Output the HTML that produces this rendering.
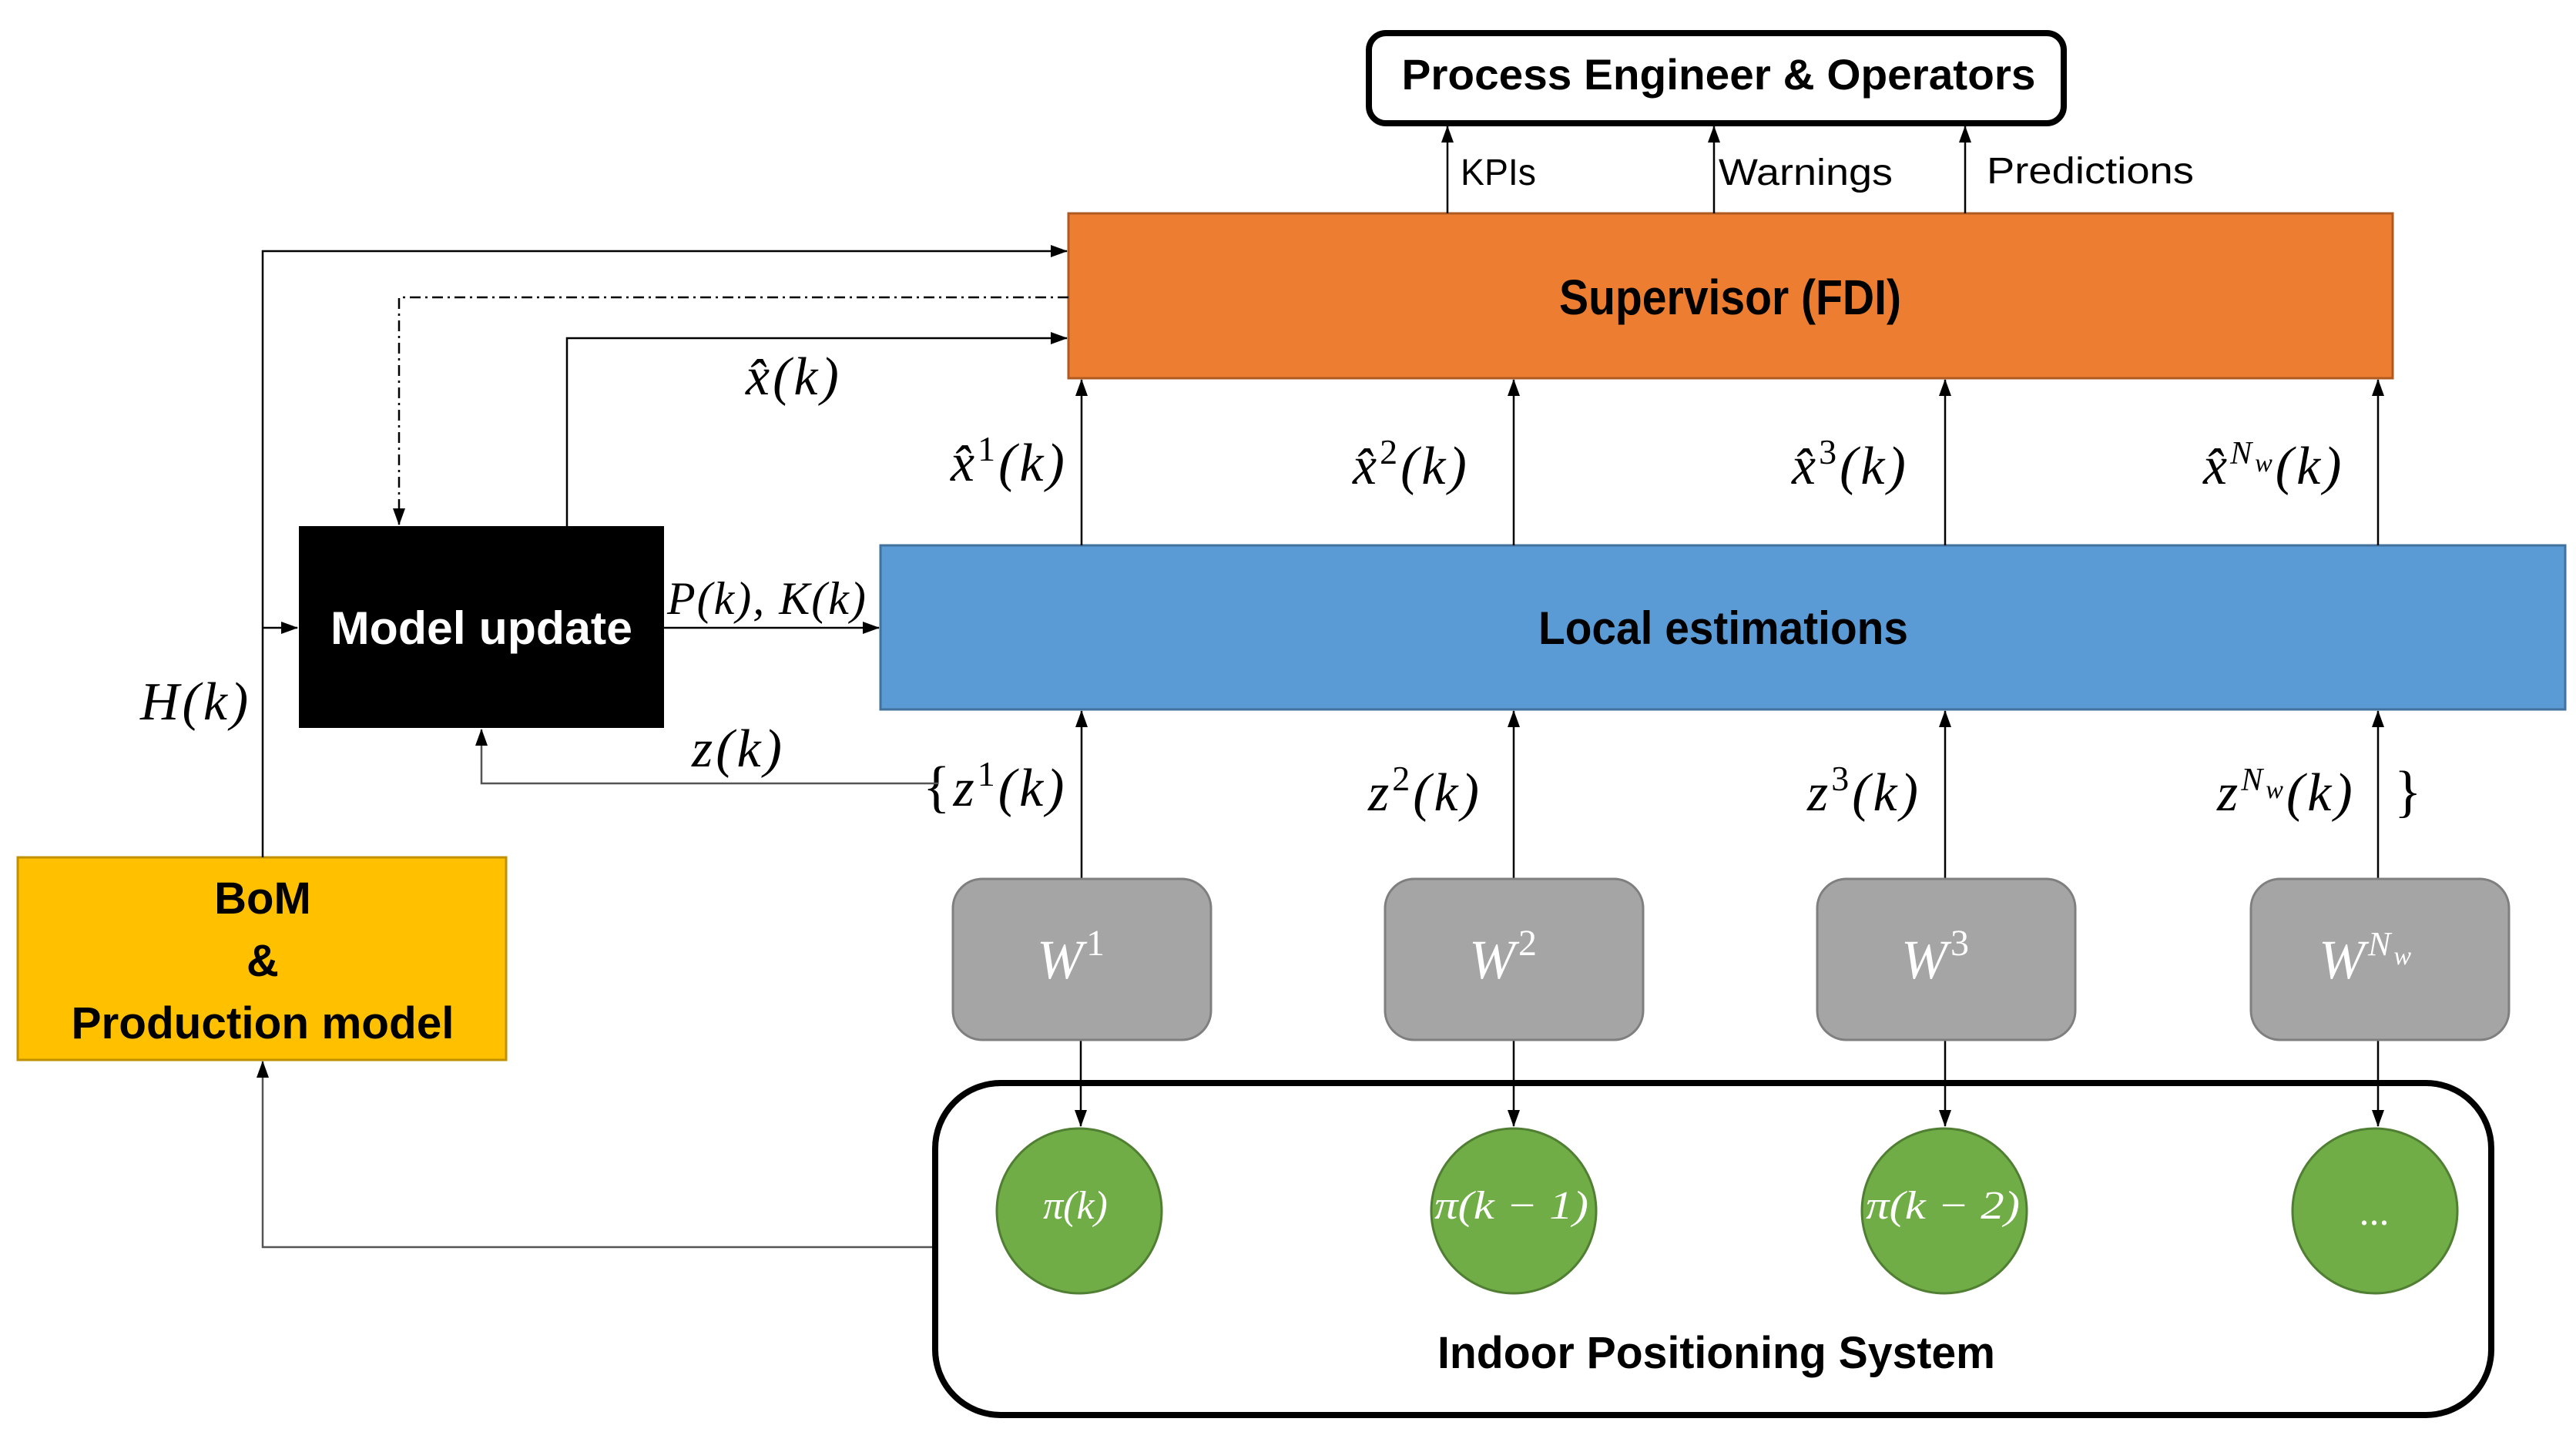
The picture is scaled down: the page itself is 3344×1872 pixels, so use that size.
<!DOCTYPE html>
<html><head><meta charset="utf-8"><style>
html,body{margin:0;padding:0;background:#fff;}
svg{display:block;}
.b{font-family:"Liberation Sans",sans-serif;font-weight:bold;}
.n{font-family:"Liberation Sans",sans-serif;}
.m{font-family:"Liberation Serif",serif;font-style:italic;}
</style></head><body>
<svg width="3344" height="1872" viewBox="0 0 3344 1872" xmlns="http://www.w3.org/2000/svg">
<defs>
<marker id="A" markerWidth="22" markerHeight="16" refX="21" refY="8" orient="auto" markerUnits="userSpaceOnUse">
<path d="M0,0 L22,8 L0,16 z" fill="#000"/></marker>
</defs>

<rect x="1777" y="43" width="902" height="117" rx="22" fill="#fff" stroke="#000" stroke-width="8"/>
<text x="2231" y="116" class="b" font-size="56" text-anchor="middle" textLength="823" lengthAdjust="spacingAndGlyphs">Process Engineer &amp; Operators</text>

<rect x="1387" y="277" width="1719" height="214" fill="#ED7D31" stroke="#AE5A21" stroke-width="3"/>
<text x="2246" y="408" class="b" font-size="64" text-anchor="middle" textLength="444" lengthAdjust="spacingAndGlyphs">Supervisor (FDI)</text>

<g stroke="#000" stroke-width="2.5" fill="none" marker-end="url(#A)">
<line x1="1879" y1="277" x2="1879" y2="164"/>
<line x1="2225" y1="277" x2="2225" y2="164"/>
<line x1="2551" y1="277" x2="2551" y2="164"/>
</g>
<text x="1896" y="240" class="n" font-size="48" textLength="98" lengthAdjust="spacingAndGlyphs">KPIs</text>
<text x="2231" y="240" class="n" font-size="48" textLength="226" lengthAdjust="spacingAndGlyphs">Warnings</text>
<text x="2579" y="238" class="n" font-size="48" textLength="269" lengthAdjust="spacingAndGlyphs">Predictions</text>

<rect x="1143" y="708" width="2187" height="213" fill="#5B9BD5" stroke="#41719C" stroke-width="3"/>
<text x="2237" y="836" class="b" font-size="60" text-anchor="middle" textLength="480" lengthAdjust="spacingAndGlyphs">Local estimations</text>

<rect x="388" y="683" width="474" height="262" fill="#000"/>
<text x="625" y="836" class="b" font-size="60" fill="#fff" text-anchor="middle" textLength="392" lengthAdjust="spacingAndGlyphs">Model update</text>

<rect x="23" y="1113" width="634" height="263" fill="#FFC000" stroke="#BF9000" stroke-width="3"/>
<text x="341" y="1186" class="b" font-size="58" text-anchor="middle">BoM</text>
<text x="341" y="1267" class="b" font-size="58" text-anchor="middle">&amp;</text>
<text x="341" y="1348" class="b" font-size="58" text-anchor="middle" textLength="497" lengthAdjust="spacingAndGlyphs">Production model</text>

<g stroke="#000" stroke-width="2.5" fill="none" marker-end="url(#A)">
<line x1="1404" y1="708" x2="1404" y2="493"/>
<line x1="1965" y1="708" x2="1965" y2="493"/>
<line x1="2525" y1="708" x2="2525" y2="493"/>
<line x1="3087" y1="708" x2="3087" y2="493"/>
<line x1="1404" y1="1141" x2="1404" y2="923"/>
<line x1="1965" y1="1141" x2="1965" y2="923"/>
<line x1="2525" y1="1141" x2="2525" y2="923"/>
<line x1="3087" y1="1141" x2="3087" y2="923"/>
<line x1="1403" y1="1350" x2="1403" y2="1462"/>
<line x1="1965" y1="1350" x2="1965" y2="1462"/>
<line x1="2525" y1="1350" x2="2525" y2="1462"/>
<line x1="3087" y1="1350" x2="3087" y2="1462"/>
</g>

<g class="m" font-size="70" letter-spacing="4">
<text x="1234" y="624">x&#770;<tspan font-size="46" dy="-26" font-style="normal">1</tspan><tspan dy="26">(k)</tspan></text>
<text x="1756" y="628">x&#770;<tspan font-size="46" dy="-26" font-style="normal">2</tspan><tspan dy="26">(k)</tspan></text>
<text x="2326" y="628">x&#770;<tspan font-size="46" dy="-26" font-style="normal">3</tspan><tspan dy="26">(k)</tspan></text>
<text x="2860" y="628">x&#770;<tspan font-size="42" dy="-26">N</tspan><tspan font-size="34" dy="10">w</tspan><tspan dy="16">(k)</tspan></text>
<text x="968" y="512">x&#770;(k)</text>
<text x="866" y="797" font-size="60" letter-spacing="2">P(k), K(k)</text>
<text x="182" y="934">H(k)</text>
<text x="898" y="995">z(k)</text>
<text x="1198" y="1046"><tspan font-style="normal" font-size="74">{</tspan>z<tspan font-size="46" dy="-26" font-style="normal">1</tspan><tspan dy="26">(k)</tspan></text>
<text x="1776" y="1052">z<tspan font-size="46" dy="-26" font-style="normal">2</tspan><tspan dy="26">(k)</tspan></text>
<text x="2346" y="1052">z<tspan font-size="46" dy="-26" font-style="normal">3</tspan><tspan dy="26">(k)</tspan></text>
<text x="2878" y="1052">z<tspan font-size="42" dy="-26">N</tspan><tspan font-size="34" dy="10">w</tspan><tspan dy="16">(k)</tspan></text>
<text x="3108" y="1052" font-style="normal" font-size="74">}</text>
</g>

<g stroke="#000" stroke-width="2.5" fill="none">
<polyline points="341,1113 341,326 1385,326" marker-end="url(#A)"/>
<line x1="341" y1="815" x2="386" y2="815" marker-end="url(#A)"/>
<polyline points="1387,386 518,386 518,681" stroke-dasharray="14,6,3,6" marker-end="url(#A)"/>
<polyline points="736,683 736,439 1385,439" marker-end="url(#A)"/>
<line x1="862" y1="815" x2="1141" y2="815" marker-end="url(#A)"/>
<polyline points="1218,1017 625,1017 625,947" stroke="#555" marker-end="url(#A)"/>
<polyline points="1214,1619 341,1619 341,1378" stroke="#555" marker-end="url(#A)"/>
</g>

<g fill="#A5A5A5" stroke="#7F7F7F" stroke-width="3">
<rect x="1237" y="1141" width="335" height="209" rx="38"/>
<rect x="1798" y="1141" width="335" height="209" rx="38"/>
<rect x="2359" y="1141" width="335" height="209" rx="38"/>
<rect x="2922" y="1141" width="335" height="209" rx="38"/>
</g>
<g class="m" font-size="72" fill="#fff" letter-spacing="4">
<text x="1346" y="1270">W<tspan font-size="48" dy="-30" font-style="normal">1</tspan></text>
<text x="1907" y="1270">W<tspan font-size="48" dy="-30" font-style="normal">2</tspan></text>
<text x="2468" y="1270">W<tspan font-size="48" dy="-30" font-style="normal">3</tspan></text>
<text x="3010" y="1270">W<tspan font-size="44" dy="-30">N</tspan><tspan font-size="34" dy="12">w</tspan></text>
</g>

<rect x="1214" y="1406" width="2020" height="431" rx="85" fill="none" stroke="#000" stroke-width="8"/>
<text x="2228" y="1776" class="b" font-size="58" text-anchor="middle" textLength="724" lengthAdjust="spacingAndGlyphs">Indoor Positioning System</text>

<g fill="#70AD47" stroke="#507E32" stroke-width="3">
<ellipse cx="1401" cy="1572" rx="107" ry="107"/>
<ellipse cx="1965" cy="1572" rx="107" ry="107"/>
<ellipse cx="2524" cy="1572" rx="107" ry="107"/>
<ellipse cx="3083" cy="1572" rx="107" ry="107"/>
</g>
<g class="m" font-size="52" fill="#fff" text-anchor="middle">
<text x="1396" y="1582">π(k)</text>
<text x="1962" y="1582" textLength="200" lengthAdjust="spacingAndGlyphs">π(k − 1)</text>
<text x="2522" y="1582" textLength="200" lengthAdjust="spacingAndGlyphs">π(k − 2)</text>
<text x="3082" y="1590" font-style="normal">...</text>
</g>
</svg>
</body></html>
